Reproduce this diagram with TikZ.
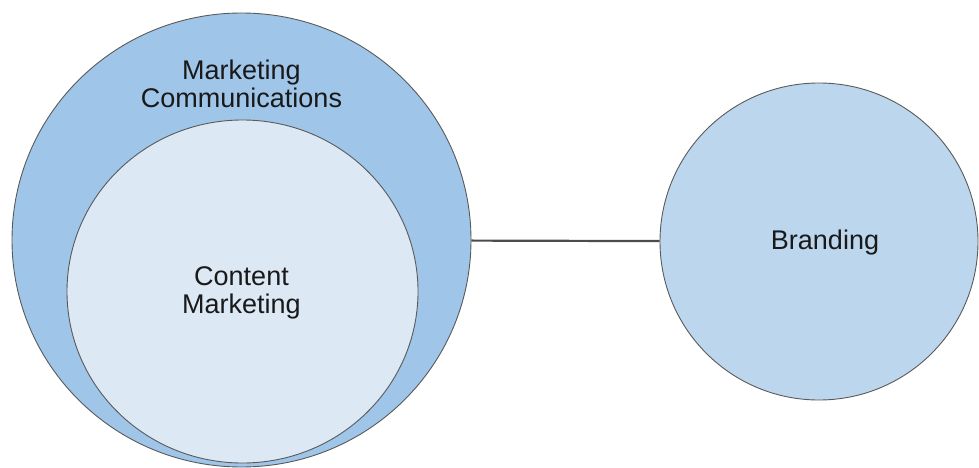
\documentclass[tikz,border=0pt]{standalone}
\usepackage{fontspec}
\setmainfont{Liberation Sans}
\usetikzlibrary{shapes.geometric}

\definecolor{outerblue}{HTML}{9FC5E8}
\definecolor{innerblue}{HTML}{DDE8F5}
\definecolor{brandblue}{HTML}{BCD6EE}
\definecolor{rimgray}{HTML}{5A5A5A}

\begin{document}
\begin{tikzpicture}[x=1pt, y=-1pt,
    every node/.style={ellipse, draw=rimgray, line width=0.9pt, inner sep=0pt},
    txt/.style={draw=none, rectangle, align=center, text=black!90, font=\fontsize{27}{28}\selectfont}]
  \useasboundingbox (0,0) rectangle (979,468);
  \node (comms) at (241.5,240) [fill=outerblue, minimum width=459pt, minimum height=454pt] {};
  \node (content) at (242.5,291.5) [fill=innerblue, minimum width=351pt, minimum height=343pt] {};
  \node (brand) at (819,241.5) [fill=brandblue, minimum width=318pt, minimum height=317pt] {};
  \node (commstext) at (241.5,84) [txt] {Marketing\\Communications};
  \node (contenttext) at (241.5,293) [txt] {Content\\Marketing};
  \node (brandtext) at (825,243) [txt] {Branding};
  \draw[black!70, line width=2.2pt] (comms) -- (brand);
\end{tikzpicture}
\end{document}
